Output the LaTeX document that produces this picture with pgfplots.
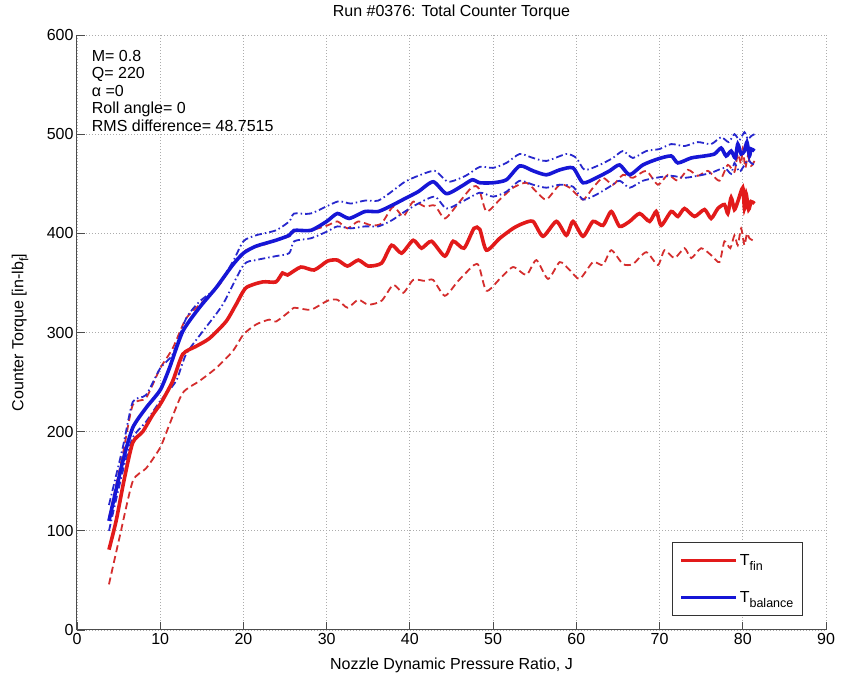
\documentclass[border=0pt]{standalone}
\usepackage{pgfplots}
\pgfplotsset{compat=1.18}
\usepackage{fontspec}
\setmainfont{Liberation Sans}
\definecolor{tfin}{RGB}{226,26,26}
\definecolor{tfind}{RGB}{212,45,45}
\definecolor{tbal}{RGB}{22,22,214}
\definecolor{tbald}{RGB}{40,40,205}
\newcommand\sub[1]{\raisebox{-0.32em}{\fontsize{12.5}{12.5}\selectfont #1}}
\begin{document}
\begin{tikzpicture}
\begin{axis}[
  scale only axis, width=749pt, height=595pt,
  xmin=0, xmax=90, ymin=0, ymax=600, clip=false,
  xtick={0,10,...,90}, ytick={0,100,...,600},
  axis x line=bottom, axis y line=left,
  axis line style={-, line width=1pt, black!70},
  tick align=inside, major tick length=8pt,
  tick style={line width=0.8pt, black!70},
  grid=major, grid style={line width=0.9pt, gray!65, dash pattern=on 1pt off 2pt},
  font=\fontsize{16}{16}\selectfont,
  tick label style={font=\fontsize{16}{16}\selectfont},
  /pgf/number format/assume math mode=true,
  xlabel={Nozzle Dynamic Pressure Ratio, J},
  xlabel style={at={(axis description cs:0.5,-0.059)}, anchor=center},
  ylabel={Counter Torque [in-lb\sub{f}]},
  ylabel style={at={(axis description cs:-0.076,0.5)}, anchor=center},
  legend style={at={(axis description cs:0.969,0.0235)}, anchor=south east,
    draw=black!80, line width=0.8pt, fill=white,
    font=\fontsize{16}{16}\selectfont, inner xsep=7pt, inner ysep=10pt, row sep=20pt},
  legend cell align=left,
  legend image code/.code={\draw[#1, line width=3pt] (0pt,0pt) -- (55pt,0pt);},
  every axis plot/.append style={smooth, tension=0.4},
]
% red dashed lower
\addplot[tfind, line width=1.8pt, dash pattern=on 7pt off 4pt, forget plot] coordinates {
(3.84,46)(5.1,93)(6.7,150)(8.3,163)(10,184)(11.1,207)(12.7,239)(14.7,251)(16.7,264)(18.7,281)
(20,298)(21.5,308)(23.1,313)(23.9,311)(25.5,321)(26.1,325)(28.1,323)(30.1,332)(31.3,333)(32.5,325)
(33.8,333)(35,328)(36.6,332)(38,348)(39.2,340)(40.4,353)(41.8,352)(42.8,353)(44.2,337)(45.8,352)
(47.7,368)(48.3,367)(49.2,342)(50.8,354)(52.4,366)(54,358)(55.2,373)(56.6,354)(58,371)(59.2,363)
(60.4,354)(62,371)(63.2,368)(64.2,383)(65.6,369)(66.8,369)(68.4,381)(69.8,368)(70.6,383)(71.8,375)
(73,385)(73.8,375)(75,385)(76.2,378)(77.2,371)(77.8,392)(78.5,385)(79,398)(79.4,388)(79.8,405)
(80.2,388)(80.5,400)(80.8,395)(81.4,392)};
% red dashed upper
\addplot[tfind, line width=1.8pt, dash pattern=on 7pt off 4pt, forget plot] coordinates {
(3.84,113)(5.5,177)(6.7,227)(8.3,234)(10,264)(11.5,284)(13.1,314)(15.1,331)(17.1,348)(18.7,368)
(20.3,383)(22.3,388)(23.9,393)(25.5,397)(26.1,402)(28.1,403)(30.1,408)(31.3,412)(32.5,405)(33.8,412)
(35.4,408)(36.6,410)(38,427)(39.2,417)(40.4,432)(41.8,427)(43,428)(44.2,415)(45.8,430)(47.5,447)
(48.3,445)(49.2,422)(50.8,434)(52.4,446)(54,451)(55.2,442)(56.4,434)(58,449)(59.2,446)(60.8,434)
(62,446)(63.2,456)(64.4,449)(65.6,459)(66.8,456)(68.4,463)(69.8,449)(71,459)(72.2,453)(73.4,464)
(74.6,458)(75.8,463)(77.2,453)(78.2,469)(79,462)(79.4,480)(79.8,470)(80,486)(80.3,466)(80.6,478)
(81,468)(81.4,473)};
% blue dash-dot lower
\addplot[tbald, line width=1.8pt, dash pattern=on 7pt off 3pt on 1.5pt off 3pt, forget plot] coordinates {
(3.84,100)(5.5,160)(6.7,194)(8.3,210)(10,231)(11.9,251)(13.1,278)(15.1,301)(17.5,328)(20,368)
(21.5,373)(23.9,377)(25.5,380)(26.1,392)(28.1,395)(30.1,402)(31.3,407)(32.9,405)(34.6,407)(36.2,407)
(37.8,413)(39.4,422)(41,430)(43,437)(44.4,425)(46.3,432)(48.4,441)(50,437)(51.6,442)(53.2,453)
(54.8,449)(56.4,446)(58,449)(59.6,447)(60.8,434)(62.4,439)(64,447)(65.2,453)(66.4,446)(68,453)
(69.6,456)(71.4,458)(73,456)(74.6,458)(76.2,461)(77.8,466)(78.6,460)(79,471)(79.6,462)(80.2,469)
(80.6,474)(81,471)(81.4,469)};
% blue dash-dot upper
\addplot[tbald, line width=1.8pt, dash pattern=on 7pt off 3pt on 1.5pt off 3pt, forget plot] coordinates {
(3.84,126)(5.5,184)(6.7,230)(8.3,237)(10,264)(11.5,278)(13.1,314)(14.7,331)(16.7,345)(18.7,371)
(20,392)(21.5,398)(23.9,403)(25.5,412)(26.1,420)(28.1,420)(31.3,432)(32.9,430)(34.6,433)(36.2,433)
(37.8,442)(39.4,452)(41,458)(43,463)(44.6,452)(46.7,458)(48.4,467)(50,466)(51.6,471)(53.2,480)
(54.8,476)(56.4,473)(58.8,480)(60,476)(61,464)(62.8,469)(64.4,476)(65.6,483)(66.8,476)(68.4,483)
(70,485)(71.4,490)(73,488)(74.6,492)(76.2,490)(77.4,497)(78.3,492)(79,500)(79.6,494)(80.2,502)
(80.6,495)(81,498)(81.4,500)};
% T_fin
\addplot[tfin, line width=3.6pt] coordinates {
(3.84,81)(4.7,110)(5.7,153)(6.7,189)(7.9,200)(9.1,217)(10.1,229)(11.5,251)(12.7,278)(14.3,286)
(15.9,294)(17.9,311)(19.1,328)(20.3,345)(22.3,351)(23.9,351)(24.7,360)(25.3,358)(26.9,366)(28.5,363)
(30.1,372)(31.3,373)(32.5,367)(33.8,373)(35,367)(36.6,370)(37.8,388)(39,380)(40.4,393)(41.4,385)
(42.6,392)(44.2,377)(45.2,392)(46.5,385)(47.7,405)(48.4,404)(49.2,383)(50.8,395)(52.4,405)(53.6,410)
(54.8,412)(56,397)(57.6,412)(58.8,398)(59.6,412)(60.8,397)(62,412)(63.2,408)(64.2,422)(65.2,407)
(66.4,412)(67.6,420)(68.8,412)(69.6,422)(70.2,408)(71.4,422)(72.2,417)(73,425)(74.2,417)(75.4,424)
(76.2,415)(77,425)(77.8,429)(78.2,420)(78.6,436)(79,424)(79.4,432)(80,446)(80.2,425)(80.4,440)
(80.7,424)(81,432)(81.4,430)};
\addlegendentry{T\sub{fin}}
% T_balance
\addplot[tbal, line width=3.6pt] coordinates {
(3.84,110)(5.5,170)(6.7,204)(8.3,224)(10,242)(11.1,264)(12.7,301)(14.7,325)(16.7,345)(18.7,368)
(20,380)(21.5,387)(23.9,393)(25.5,398)(26.1,403)(28.1,403)(30,412)(31.3,420)(32.7,415)(34.6,422)
(36.2,422)(37.8,428)(39.4,435)(41,442)(42.8,452)(44.4,440)(46.3,448)(47.5,454)(48.4,451)(50,451)
(51.6,454)(53.2,468)(54.8,463)(56.4,459)(58,464)(59.6,466)(60.8,451)(62.4,456)(64,463)(65.2,469)
(66.4,459)(68,469)(69.8,475)(71.4,478)(72.2,471)(73.8,476)(75.4,478)(76.6,480)(77.4,486)(78,478)
(78.6,483)(79.1,476)(79.4,490)(79.8,480)(80.2,483)(80.5,492)(80.8,478)(81,485)(81.4,483)};
\addlegendentry{T\sub{balance}}
\node[anchor=north west, align=left, inner sep=0pt, font=\fontsize{16}{17.5}\selectfont]
  at (rel axis cs:0.0196,0.975) {M= 0.8\\Q= 220\\α =0\\Roll angle= 0\\RMS difference= 48.7515};
\node[anchor=center, inner sep=0pt, font=\fontsize{16}{16}\selectfont]
  at (rel axis cs:0.5,1.0387) {Run \#0376: Total Counter Torque};
\end{axis}
\pgfresetboundingbox
\path[use as bounding box] ([xshift=-77pt,yshift=-55pt]current axis.south west) rectangle ([xshift=18pt,yshift=35pt]current axis.north east);
\end{tikzpicture}
\end{document}
